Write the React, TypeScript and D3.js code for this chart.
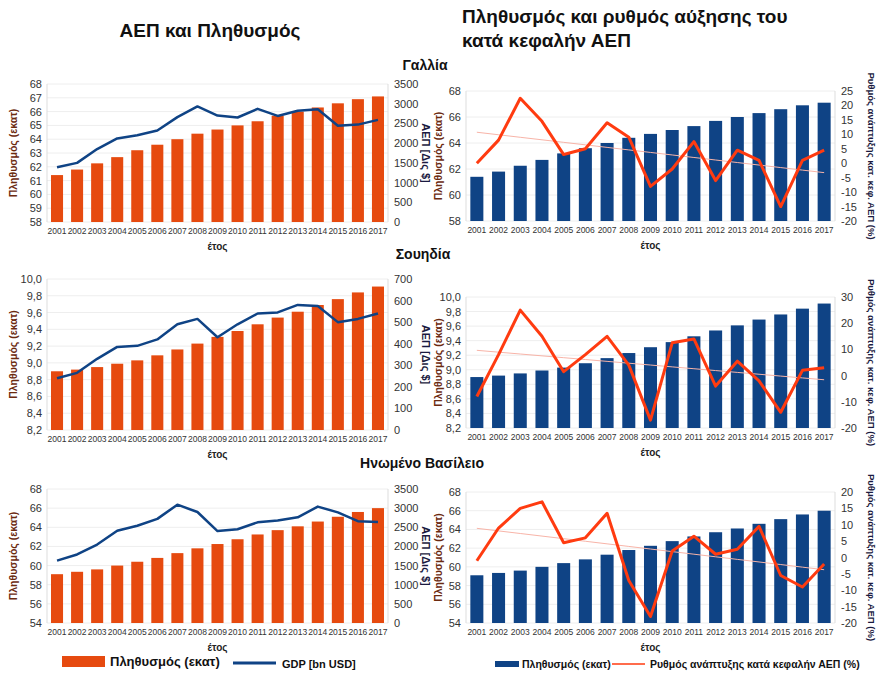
import React from 'react'
import * as d3 from 'd3'

const years = d3.range(2001, 2018).map(String)

const frPop = [61.4, 61.8, 62.25, 62.7, 63.2, 63.6, 64.0, 64.4, 64.7, 65.0, 65.3, 65.7, 66.0, 66.3, 66.6, 66.9, 67.1]
const frGdp = [1390, 1500, 1850, 2120, 2200, 2320, 2660, 2930, 2700, 2650, 2870, 2690, 2820, 2860, 2440, 2470, 2590]
const frGrowth = [0, 8, 22.5, 14.5, 3, 5, 14, 9, -8, -2, 7.5, -6, 4.5, 1, -15, 1, 4.5]

const sePop = [8.9, 8.92, 8.95, 8.99, 9.03, 9.09, 9.16, 9.23, 9.31, 9.38, 9.46, 9.54, 9.61, 9.69, 9.76, 9.84, 9.91]
const seGdp = [240, 265, 330, 385, 390, 420, 490, 515, 430, 490, 540, 545, 580, 575, 500, 515, 540]
const seGrowth = [-8, 8, 25, 15, 1.5, 8, 15, 4, -17, 12.5, 14, -4, 5.5, -2, -14, 2, 3]

const ukPop = [59.1, 59.35, 59.6, 60.0, 60.4, 60.8, 61.3, 61.8, 62.25, 62.75, 63.25, 63.7, 64.1, 64.6, 65.1, 65.6, 66.0]
const ukGdp = [1630, 1790, 2050, 2410, 2540, 2720, 3090, 2900, 2400, 2450, 2630, 2680, 2760, 3040, 2890, 2660, 2640]
const ukGrowth = [-1, 9, 15, 17, 4.5, 6, 13.5, -7, -18, 2, 6.5, 1, 2.5, 9.5, -5.5, -9, -2]

const ORANGE = '#e64a0f'
const NAVY = '#0f4385'
const RED = '#ff3b10'
const FONT = '"Liberation Sans", Arial, sans-serif'

type PanelProps = {
  x0: number; x1: number; y0: number; y1: number
  pop: number[]; popDom: [number, number]; popTicks: number[]; popFmt: (v: number) => string
  line: number[]; lineDom: [number, number]; lineTicks: number[]
  barColor: string; lineColor: string; lineWidth: number
  trend?: boolean; rightLabel: string; rightLabelSize: number; leftLabelX: number; rightLabelX: number
}

function Panel(p: PanelProps) {
  const x = d3.scaleBand().domain(years).range([p.x0, p.x1]).paddingInner(0.4).paddingOuter(0.2)
  const yl = d3.scaleLinear().domain(p.popDom).range([p.y1, p.y0])
  const yr = d3.scaleLinear().domain(p.lineDom).range([p.y1, p.y0])
  const cx = (i: number) => x(years[i])! + x.bandwidth() / 2
  const path = d3.line<number>().x((_, i) => cx(i)).y(d => yr(d))(p.line)!
  let trendLine: string | null = null
  if (p.trend) {
    const n = p.line.length
    const xs = d3.range(n)
    const mx = d3.mean(xs)!, my = d3.mean(p.line)!
    const b = d3.sum(xs, i => (i - mx) * (p.line[i] - my)) / d3.sum(xs, i => (i - mx) ** 2)
    const a = my - b * mx
    trendLine = d3.line<number>().x(i => cx(i)).y(i => yr(a + b * i))(xs)!
  }
  const midY = (p.y0 + p.y1) / 2
  return (
    <g fontFamily={FONT}>
      {p.popTicks.map(t => (
        <g key={t}>
          <line x1={p.x0} x2={p.x1} y1={yl(t)} y2={yl(t)} stroke="#eeeeee" />
          <text x={p.x0 - 5} y={yl(t) + 4} fontSize={11} textAnchor="end" fill="#333">{p.popFmt(t)}</text>
        </g>
      ))}
      {p.lineTicks.map(t => (
        <text key={t} x={p.x1 + 6} y={yr(t) + 4} fontSize={11} fill="#333">{t}</text>
      ))}
      <line x1={p.x0} x2={p.x0} y1={p.y0} y2={p.y1} stroke="#ddd" />
      <line x1={p.x1} x2={p.x1} y1={p.y0} y2={p.y1} stroke="#ddd" />
      {p.pop.map((v, i) => (
        <rect key={i} x={x(years[i])} y={yl(v)} width={x.bandwidth()} height={p.y1 - yl(v)} fill={p.barColor} />
      ))}
      {trendLine && <path d={trendLine} fill="none" stroke="#f8b4a8" strokeWidth={1} />}
      <path d={path} fill="none" stroke={p.lineColor} strokeWidth={p.lineWidth} strokeLinejoin="round" />
      {years.map((y, i) => (
        <text key={y} x={cx(i)} y={p.y1 + 12} fontSize={8.5} textAnchor="middle" fill="#333">{y}</text>
      ))}
      <text x={(p.x0 + p.x1) / 2} y={p.y1 + 28} fontSize={10} fontWeight="bold" textAnchor="middle" fill="#222">έτος</text>
      <text transform={`translate(${p.leftLabelX},${midY}) rotate(-90)`} fontSize={10.5} fontWeight="bold" textAnchor="middle" fill="#6b2a10">Πληθυσμός (εκατ)</text>
      <text transform={`translate(${p.rightLabelX},${midY}) rotate(90)`} fontSize={p.rightLabelSize} fontWeight="bold" textAnchor="middle" fill="#1a1a40">{p.rightLabel}</text>
    </g>
  )
}

const fmt0 = (v: number) => String(v)
const fmt1 = (v: number) => v.toFixed(1).replace('.', ',')

export default function App() {
  const L = { x0: 47, x1: 388, rightLabel: 'ΑΕΠ [Δις $]', rightLabelSize: 11, leftLabelX: 17, rightLabelX: 422 }
  const R = { x0: 466, x1: 835, rightLabel: 'Ρυθμός ανάπτυξης κατ. κεφ. ΑΕΠ (%)', rightLabelSize: 9.5, leftLabelX: 442, rightLabelX: 868 }
  return (
    <svg width={890} height={700} style={{ position: 'absolute', left: 0, top: 0 }}>
      <rect width={890} height={700} fill="#fff" />

      <g fontFamily={FONT} fontWeight="bold" fill="#111">
        <text x={210} y={37} fontSize={19} textAnchor="middle">ΑΕΠ και Πληθυσμός</text>
        <text x={462} y={23} fontSize={19}>Πληθυσμός και ρυθμός αύξησης του</text>
        <text x={462} y={47} fontSize={19}>κατά κεφαλήν ΑΕΠ</text>
        <text x={425} y={70} fontSize={14} textAnchor="middle">Γαλλία</text>
        <text x={423} y={259} fontSize={14} textAnchor="middle">Σουηδία</text>
        <text x={422} y={468} fontSize={14} textAnchor="middle">Ηνωμένο Βασίλειο</text>
      </g>

      <Panel {...L} y0={84} y1={222} pop={frPop} popDom={[58, 68]} popTicks={d3.range(58, 69)} popFmt={fmt0}
        line={frGdp} lineDom={[0, 3500]} lineTicks={d3.range(0, 3501, 500)} barColor={ORANGE} lineColor={NAVY} lineWidth={2.5} />
      <Panel {...R} y0={91} y1={221} pop={frPop} popDom={[58, 68]} popTicks={d3.range(58, 69, 2)} popFmt={fmt0}
        line={frGrowth} lineDom={[-20, 25]} lineTicks={d3.range(-20, 26, 5)} barColor={NAVY} lineColor={RED} lineWidth={3} trend />

      <Panel {...L} y0={279} y1={430} pop={sePop} popDom={[8.2, 10]} popTicks={d3.range(8.2, 10.01, 0.2)} popFmt={fmt1}
        line={seGdp} lineDom={[0, 700]} lineTicks={d3.range(0, 701, 100)} barColor={ORANGE} lineColor={NAVY} lineWidth={2.5} />
      <Panel {...R} y0={297} y1={428} pop={sePop} popDom={[8.2, 10]} popTicks={d3.range(8.2, 10.01, 0.2)} popFmt={fmt1}
        line={seGrowth} lineDom={[-20, 30]} lineTicks={d3.range(-20, 31, 10)} barColor={NAVY} lineColor={RED} lineWidth={3} trend />

      <Panel {...L} y0={489} y1={623} pop={ukPop} popDom={[54, 68]} popTicks={d3.range(54, 69, 2)} popFmt={fmt0}
        line={ukGdp} lineDom={[0, 3500]} lineTicks={d3.range(0, 3501, 500)} barColor={ORANGE} lineColor={NAVY} lineWidth={2.5} />
      <Panel {...R} y0={492} y1={623} pop={ukPop} popDom={[54, 68]} popTicks={d3.range(54, 69, 2)} popFmt={fmt0}
        line={ukGrowth} lineDom={[-20, 20]} lineTicks={d3.range(-20, 21, 5)} barColor={NAVY} lineColor={RED} lineWidth={3} trend />

      <g fontFamily={FONT} fontWeight="bold">
        <rect x={62} y={656} width={43} height={11} fill={ORANGE} />
        <text x={110} y={666} fontSize={13} fill="#111">Πληθυσμός (εκατ)</text>
        <line x1={233} x2={276} y1={663} y2={663} stroke={NAVY} strokeWidth={3} />
        <text x={282} y={668} fontSize={11} fill="#111">GDP [bn USD]</text>
        <rect x={495} y={661} width={24} height={6} fill={NAVY} />
        <text x={522} y={668} fontSize={10.5} fill="#111">Πληθυσμός (εκατ)</text>
        <line x1={612} x2={645} y1={664} y2={664} stroke={RED} strokeWidth={1.5} />
        <text x={650} y={668} fontSize={10.5} fill="#111">Ρυθμός ανάπτυξης κατά κεφαλήν ΑΕΠ (%)</text>
      </g>
    </svg>
  )
}
